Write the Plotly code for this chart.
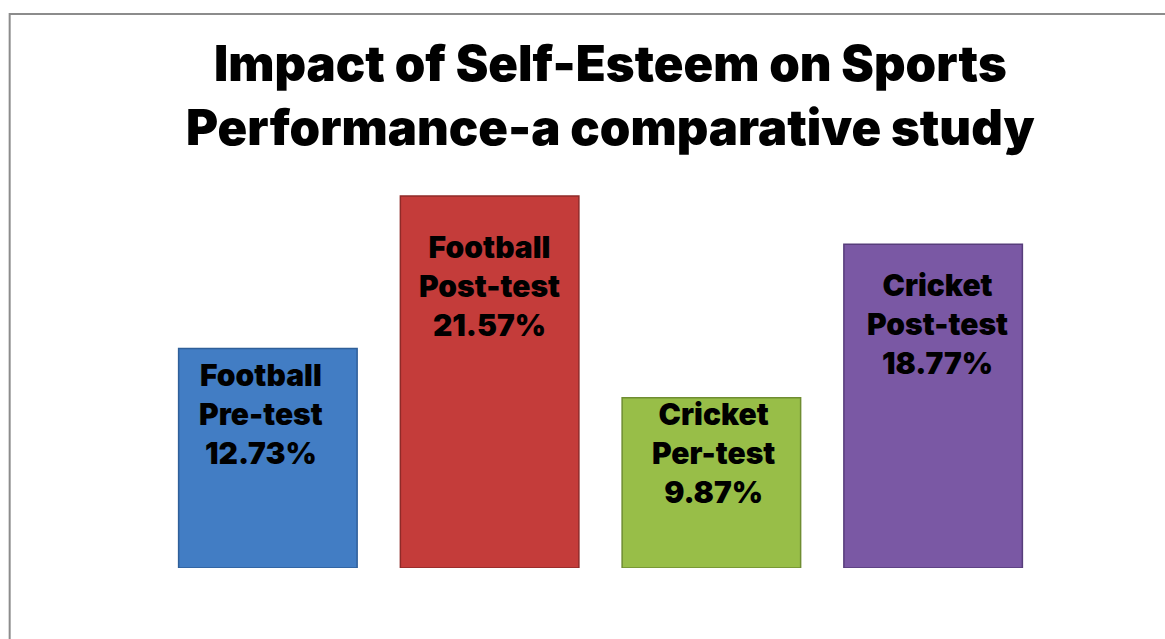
import plotly.graph_objects as go

categories = ["Football Pre-test", "Football Post-test", "Cricket Per-test", "Cricket Post-test"]
values = [12.73, 21.57, 9.87, 18.77]
label_lines = [["Football", "Pre-test"], ["Football", "Post-test"], ["Cricket", "Per-test"], ["Cricket", "Post-test"]]
colors = ["#427dc4", "#c43c3a", "#98be48", "#7a58a4"]
edge_colors = ["#2f5f99", "#8f2a28", "#6f8d31", "#573d7b"]
label_shift = [-7, -31, 4, -21]
label_xshift = [-7, 0, 2, 4]

W, H = 1165, 639
L, R, T, B = 156.5, 120.5, 154, 71
FONT = "Inter, DejaVu Sans"

fig = go.Figure()
fig.add_trace(go.Bar(
    x=categories, y=values,
    marker=dict(color=colors, line=dict(color=edge_colors, width=1.5)),
    width=0.805, hoverinfo="x+y",
))

for c, v, lines, ys, xs in zip(categories, values, label_lines, label_shift, label_xshift):
    fig.add_annotation(
        x=c, y=v, xref="x", yref="y",
        text="<br>".join(lines + [f"{v:.2f}%"]),
        showarrow=False, yanchor="top", yshift=ys, xshift=xs,
        font=dict(family=FONT, size=30, color="black", weight=900),
        align="center",
    )

fig.add_annotation(
    xref="paper", yref="paper", x=0.5 + (593 - 582.5) / (W - L - R), y=(568 - 95) / (H - T - B),
    text="Impact of Self-Esteem on Sports<br>Performance-a comparative study",
    showarrow=False, yanchor="middle", xanchor="center",
    font=dict(family=FONT, size=49, color="black", weight=900),
)

pw, ph = W - L - R, H - T - B
fig.add_shape(type="rect", xref="paper", yref="paper",
              x0=(9 - L) / pw, x1=1.2, y0=-0.3, y1=(568 - 14) / ph,
              line=dict(color="#8c8c8c", width=2), layer="below")

fig.update_layout(
    width=W, height=H,
    margin=dict(l=L, r=R, t=T, b=B),
    paper_bgcolor="white", plot_bgcolor="white",
    showlegend=False,
    xaxis=dict(visible=False, range=[-0.5, 3.5]),
    yaxis=dict(visible=False, range=[0, 24]),
)

fig.write_html("out.html", config={"displayModeBar": False},
               post_script="document.body.style.margin='0';")
